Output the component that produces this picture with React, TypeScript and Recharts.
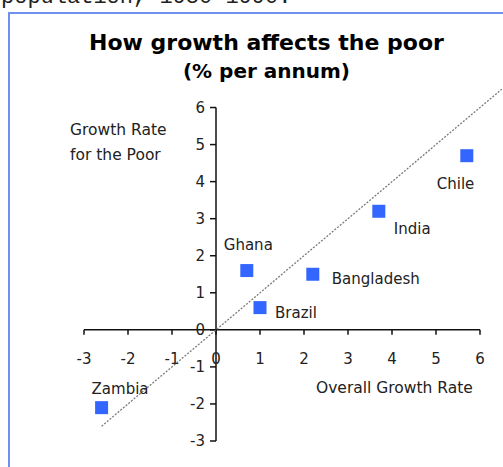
import React from 'react';
import {
  ScatterChart,
  Scatter,
  XAxis,
  YAxis,
  ReferenceLine,
  ReferenceDot,
  LabelList,
} from 'recharts';

// Growth rates, % per annum, 1980-1990
const countries = ['Zambia', 'Ghana', 'Brazil', 'Bangladesh', 'India', 'Chile'];
const overallGrowth = [-2.6, 0.7, 1.0, 2.2, 3.7, 5.7];
const poorGrowth = [-2.1, 1.6, 0.6, 1.5, 3.2, 4.7];

// 45-degree reference: poor grow as fast as everyone else
const diagonalX = [-2.6, 6.5];

const xTicks = [-3, -2, -1, 0, 1, 2, 3, 4, 5, 6];
const yTicks = [-3, -2, -1, 0, 1, 2, 3, 4, 5, 6];

const points = countries.map((name, i) => ({
  name,
  x: overallGrowth[i],
  y: poorGrowth[i],
}));
const diagonal = diagonalX.map((v) => ({ x: v, y: v }));

// where each country name sits relative to its marker
const labelOffset: Record<string, [number, number]> = {
  Zambia: [-10, -19],
  Ghana: [-23, -26],
  Brazil: [15, 5],
  Bangladesh: [19, 5],
  India: [15, 18],
  Chile: [-30, 28],
};

const FONT = '"DejaVu Sans", Verdana, sans-serif';
const MARKER = '#3366ff';
const AXIS = '#111';

function Square(props: any) {
  const { cx, cy } = props;
  if (cx == null || cy == null) return null;
  const s = 13;
  return <rect x={cx - s / 2} y={cy - s / 2} width={s} height={s} fill={MARKER} />;
}

function CountryLabel(props: any) {
  const { x, y, width, height, value } = props;
  const [dx, dy] = labelOffset[value] || [0, 0];
  const cx = x + width / 2;
  const cy = y + height / 2;
  return (
    <text
      x={cx + dx}
      y={cy + dy}
      textAnchor="start"
      dominantBaseline="central"
      fontFamily={FONT}
      fontSize={15}
      fill="#222"
    >
      {value}
    </text>
  );
}

function XTick(props: any) {
  const { cx, cy, value } = props;
  return (
    <g>
      <line x1={cx} y1={cy} x2={cx} y2={cy + 5} stroke={AXIS} strokeWidth={1.5} />
      <text
        x={cx}
        y={cy + 29}
        textAnchor="middle"
        dominantBaseline="central"
        fontFamily={FONT}
        fontSize={15}
        fill="#222"
      >
        {value}
      </text>
    </g>
  );
}

function YTick(props: any) {
  const { cx, cy, value } = props;
  return (
    <g>
      <line x1={cx - 6} y1={cy} x2={cx} y2={cy} stroke={AXIS} strokeWidth={1.5} />
      <text
        x={cx - 11}
        y={cy}
        textAnchor="end"
        dominantBaseline="central"
        fontFamily={FONT}
        fontSize={15}
        fill="#222"
      >
        {value}
      </text>
    </g>
  );
}

const textStyle: React.CSSProperties = {
  position: 'absolute',
  fontFamily: FONT,
  color: '#222',
  whiteSpace: 'nowrap',
  lineHeight: 1,
};

export default function App() {
  return (
    <div
      style={{
        position: 'absolute',
        left: 0,
        top: 0,
        width: 503,
        height: 467,
        overflow: 'hidden',
        background: '#fff',
      }}
    >
      <div
        style={{
          position: 'absolute',
          left: 1,
          top: -13,
          fontFamily: '"Liberation Mono", monospace',
          fontSize: 22,
          lineHeight: '22px',
          color: '#222',
          whiteSpace: 'nowrap',
        }}
      >
        population, 1980-1990.
      </div>
      <div
        style={{
          position: 'absolute',
          left: 8,
          top: 12,
          width: 520,
          height: 480,
          borderLeft: '2px solid #7090f0',
          borderTop: '2px solid #7090f0',
        }}
      />

      <div
        style={{
          ...textStyle,
          left: 0,
          width: 533,
          top: 32,
          textAlign: 'center',
          fontSize: 22,
          fontWeight: 'bold',
          color: '#000',
        }}
      >
        How growth affects the poor
      </div>
      <div
        style={{
          ...textStyle,
          left: 0,
          width: 533,
          top: 61,
          textAlign: 'center',
          fontSize: 20,
          fontWeight: 'bold',
          color: '#000',
        }}
      >
        (% per annum)
      </div>
      <div style={{ ...textStyle, left: 70, top: 118, fontSize: 15.5, lineHeight: '25px' }}>
        Growth Rate
        <br />
        for the Poor
      </div>
      <div style={{ ...textStyle, left: 316, top: 381, fontSize: 15.5 }}>Overall Growth Rate</div>

      <div style={{ position: 'absolute', left: 0, top: 0 }}>
        <ScatterChart
          width={503}
          height={467}
          margin={{ top: 89, right: 1, bottom: 26, left: 84 }}
        >
          <XAxis type="number" dataKey="x" domain={[-3, 6.5]} hide allowDataOverflow />
          <YAxis type="number" dataKey="y" domain={[-3, 6.5]} hide allowDataOverflow />

          <ReferenceLine
            segment={[{ x: -3, y: 0 }, { x: 6, y: 0 }]}
            stroke={AXIS}
            strokeWidth={1.5}
            ifOverflow="visible"
          />
          <ReferenceLine
            segment={[{ x: 0, y: -3 }, { x: 0, y: 6 }]}
            stroke={AXIS}
            strokeWidth={1.5}
            ifOverflow="visible"
          />
          {xTicks.map((t) => (
            <ReferenceDot
              key={`xt${t}`}
              x={t}
              y={0}
              r={0}
              ifOverflow="visible"
              shape={(p: any) => <XTick {...p} value={t} />}
            />
          ))}
          {yTicks.map((t) => (
            <ReferenceDot
              key={`yt${t}`}
              x={0}
              y={t}
              r={0}
              ifOverflow="visible"
              shape={(p: any) => <YTick {...p} value={t} />}
            />
          ))}

          <Scatter
            data={diagonal}
            line={{ stroke: '#7a7a7a', strokeWidth: 1.3, strokeDasharray: '2 1.5' }}
            shape={() => null}
            isAnimationActive={false}
          />
          <Scatter data={points} shape={<Square />} isAnimationActive={false}>
            <LabelList dataKey="name" content={<CountryLabel />} />
          </Scatter>
        </ScatterChart>
      </div>
    </div>
  );
}
